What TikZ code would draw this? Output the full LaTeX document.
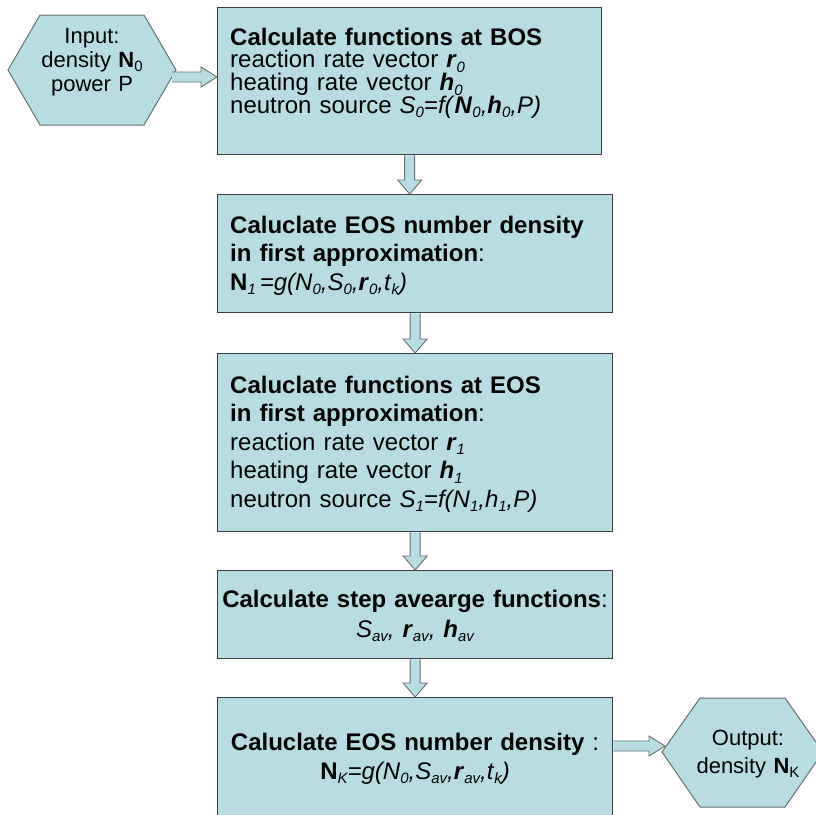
\documentclass[tikz,border=0pt]{standalone}
\usepackage{fontspec}
\setmainfont{Liberation Sans}
\usetikzlibrary{calc}
\definecolor{boxfill}{RGB}{183,221,226}
\definecolor{boxline}{RGB}{58,62,62}
\definecolor{arrline}{RGB}{100,112,112}
\newcommand\bi[1]{\textbf{\textit{#1}}}
\newcommand\subi[1]{\raisebox{-4.5pt}{\fontsize{15}{15}\selectfont\itshape #1}}
\newcommand\subu[1]{\raisebox{-4.5pt}{\fontsize{15}{15}\selectfont #1}}
\newcommand\varr[3]{%
  \draw[blk] let \p1=(#1.south), \p2=(#2.north), \p3=(#3) in
    (\x3-5pt,\y1) -- (\x3-5pt,\y2+14pt) -- (\x3-12pt,\y2+14pt) -- (\x3,\y2)
    -- (\x3+12pt,\y2+14pt) -- (\x3+5pt,\y2+14pt) -- (\x3+5pt,\y1);}
\newcommand\harr[2]{%
  \draw[blk] let \p1=(#1), \p2=(#2) in
    (\x1,\y1+5pt) -- (\x2-16pt,\y1+5pt) -- (\x2-16pt,\y1+10pt) -- (\x2,\y1)
    -- (\x2-16pt,\y1-10pt) -- (\x2-16pt,\y1-5pt) -- (\x1,\y1-5pt);}
\tikzset{
  box/.style={draw=boxline, line width=1.3pt, fill=boxfill, inner sep=0pt, anchor=north west},
  boxtext/.style={anchor=base west, align=left, text width=380pt, inner sep=0pt},
  ctext/.style={anchor=base, align=center, text width=392pt, inner sep=0pt},
  hextext/.style={anchor=base, align=center, text width=160pt, inner sep=0pt},
  blk/.style={draw=arrline, line width=0.9pt, fill=boxfill, line join=miter},
  hexshape/.style={draw=arrline, line width=1pt, fill=boxfill, line join=miter}
}
\begin{document}
\begin{tikzpicture}[x=1pt,y=-1pt]
\useasboundingbox (0,0) rectangle (816,814);
% boxes
\node[box, minimum width=384pt, minimum height=147pt] (b1) at (217,7) {};
\node[box, minimum width=395pt, minimum height=118pt] (b2) at (217,194) {};
\node[box, minimum width=395pt, minimum height=178pt] (b3) at (217,353) {};
\node[box, minimum width=395pt, minimum height=88pt] (b4) at (217,570) {};
\node[box, minimum width=395pt, minimum height=130pt] (b5) at (217,697) {};
% hexagons
\path[hexshape] (8,70) -- (40,15) -- (144,15) -- (176,70) -- (144,125) -- (40,125) -- cycle;
\path[hexshape] (662,752) -- (700,698) -- (785,698) -- (823,752) -- (785,807) -- (700,807) -- cycle;
% texts
\node[boxtext, font=\fontsize{24}{22.8}\selectfont] (t1) at (230,45)
 {\textbf{Calculate functions at BOS}\\
  reaction rate vector \bi{r}\subi{0}\\
  heating rate vector \bi{h}\subi{0}\\
  neutron source \textit{S}\subi{0}\textit{=f(}\bi{N}\subi{0}\textit{,}\bi{h}\subi{0}\textit{,P)}};
\node[boxtext, font=\fontsize{24}{28.5}\selectfont] (t2) at (230,233)
 {\textbf{Caluclate EOS number density}\\
  \textbf{in first approximation}:\\
  \textbf{N}\subi{1}\,\textit{=g(N}\subi{0}\textit{,S}\subi{0}\textit{,}\bi{r}\subi{0}\textit{,t}\subi{k}\textit{)}};
\node[boxtext, font=\fontsize{24}{28.5}\selectfont] (t3) at (230,393)
 {\textbf{Caluclate functions at EOS}\\
  \textbf{in first approximation}:\\
  reaction rate vector \bi{r}\subi{1}\\
  heating rate vector \bi{h}\subi{1}\\
  neutron source \textit{S}\subi{1}\textit{=f(N}\subi{1}\textit{,h}\subi{1}\textit{,P)}};
\node[ctext, font=\fontsize{24}{30}\selectfont] (t4) at (415,607)
 {\textbf{Calculate step avearge functions}:\\
  \textit{S}\subi{av}\textit{,} \bi{r}\subi{av}\textit{,} \bi{h}\subi{av}};
\node[ctext, font=\fontsize{24}{29}\selectfont] (t5) at (415,750)
 {\textbf{Caluclate EOS number density} :\\
  \textbf{N}\subi{K}\textit{=g(N}\subi{0}\textit{,S}\subi{av}\textit{,}\bi{r}\subi{av}\textit{,t}\subi{k}\textit{)}};
\node[hextext, font=\fontsize{22}{24}\selectfont] (inp) at (92,43)
 {Input:\\ density \textbf{N}\subu{0}\\ power P};
\node[hextext, font=\fontsize{22}{28}\selectfont] (outp) at (748,745)
 {Output:\\ density \textbf{N}\subu{K}};
% connectors
\coordinate (inR) at (172,77);
\coordinate (outL) at (665,746);
\harr{inR}{b1.west |- inR}
\varr{b1}{b2}{b1.south}
\varr{b2}{b3}{b3.north}
\varr{b3}{b4}{b4.north}
\varr{b4}{b5}{b5.north}
\harr{b5.east |- outL}{outL}
\end{tikzpicture}
\end{document}
